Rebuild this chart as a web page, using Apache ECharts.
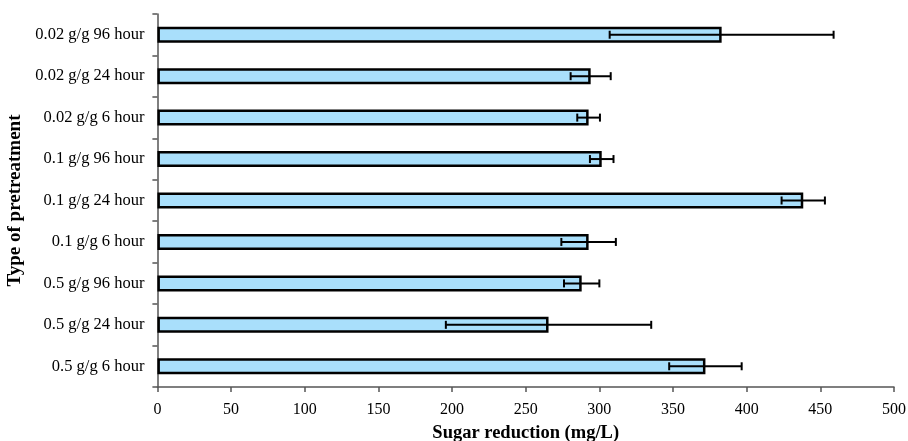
<!DOCTYPE html>
<html>
<head>
<meta charset="utf-8">
<script src="https://cdn.jsdelivr.net/npm/echarts@6/dist/echarts.min.js"></script>
<style>html,body{margin:0;padding:0;background:#fff}#c{width:908px;height:441px}</style>
</head>
<body>
<div id="c"></div>
<script>
var categories = ['0.5 g/g 6 hour','0.5 g/g 24 hour','0.5 g/g 96 hour','0.1 g/g 6 hour','0.1 g/g 24 hour','0.1 g/g 96 hour','0.02 g/g 6 hour','0.02 g/g 24 hour','0.02 g/g 96 hour'];
var values = [372, 265.5, 288, 292.7, 438.4, 301.6, 292.7, 294.1, 383];
var errors = [24.6, 69.7, 12, 18.5, 14.7, 8, 7.7, 13.6, 76];
var xTicks = [0, 50, 100, 150, 200, 250, 300, 350, 400, 450, 500];

var errData = values.map(function(v, i){ return [i, v - errors[i], v + errors[i]]; });
var font = 'Liberation Serif';
var chart = echarts.init(document.getElementById('c'));
chart.setOption({
  animation: false,
  backgroundColor: '#fff',
  grid: {left: 157.4, right: 14, top: 14, bottom: 54, containLabel: false, outerBoundsMode: 'none'},
  xAxis: {
    type: 'value', min: xTicks[0], max: xTicks[xTicks.length-1], interval: 50,
    name: 'Sugar reduction (mg/L)', nameLocation: 'middle', nameGap: 37,
    nameTextStyle: {fontFamily: font, fontWeight: 'bold', fontSize: 18.5, color: '#000'},
    axisLine: {show: true, lineStyle: {color: '#555', width: 1.5}},
    axisTick: {show: true, length: 5, lineStyle: {color: '#555', width: 1.5}},
    axisLabel: {fontFamily: font, fontSize: 16, color: '#000', margin: 15},
    splitLine: {show: false}
  },
  yAxis: {
    type: 'category', data: categories,
    name: 'Type of pretreatment', nameLocation: 'middle', nameGap: 131, nameRotate: 90,
    nameTextStyle: {fontFamily: font, fontWeight: 'bold', fontSize: 19, color: '#000'},
    axisLine: {show: true, lineStyle: {color: '#555', width: 1.5}},
    axisTick: {show: true, length: 5, lineStyle: {color: '#555', width: 1.5}},
    axisLabel: {fontFamily: font, fontSize: 16.5, color: '#000', margin: 13},
    splitLine: {show: false}
  },
  series: [
    {
      type: 'bar', data: values, barWidth: 16,
      itemStyle: {color: '#a9dffb', borderColor: '#000', borderWidth: 2.5}
    },
    {
      type: 'custom', data: errData, z: 10,
      renderItem: function(params, api){
        var y = api.value(0);
        var lo = api.coord([api.value(1), y]);
        var hi = api.coord([api.value(2), y]);
        var h = 4;
        var st = {stroke: '#000', lineWidth: 2};
        return {type: 'group', children: [
          {type: 'line', shape: {x1: lo[0], y1: lo[1], x2: hi[0], y2: hi[1]}, style: st},
          {type: 'line', shape: {x1: lo[0], y1: lo[1]-h, x2: lo[0], y2: lo[1]+h}, style: st},
          {type: 'line', shape: {x1: hi[0], y1: hi[1]-h, x2: hi[0], y2: hi[1]+h}, style: st}
        ]};
      },
      encode: {x: [1, 2], y: 0}
    }
  ]
});
</script>
</body>
</html>
